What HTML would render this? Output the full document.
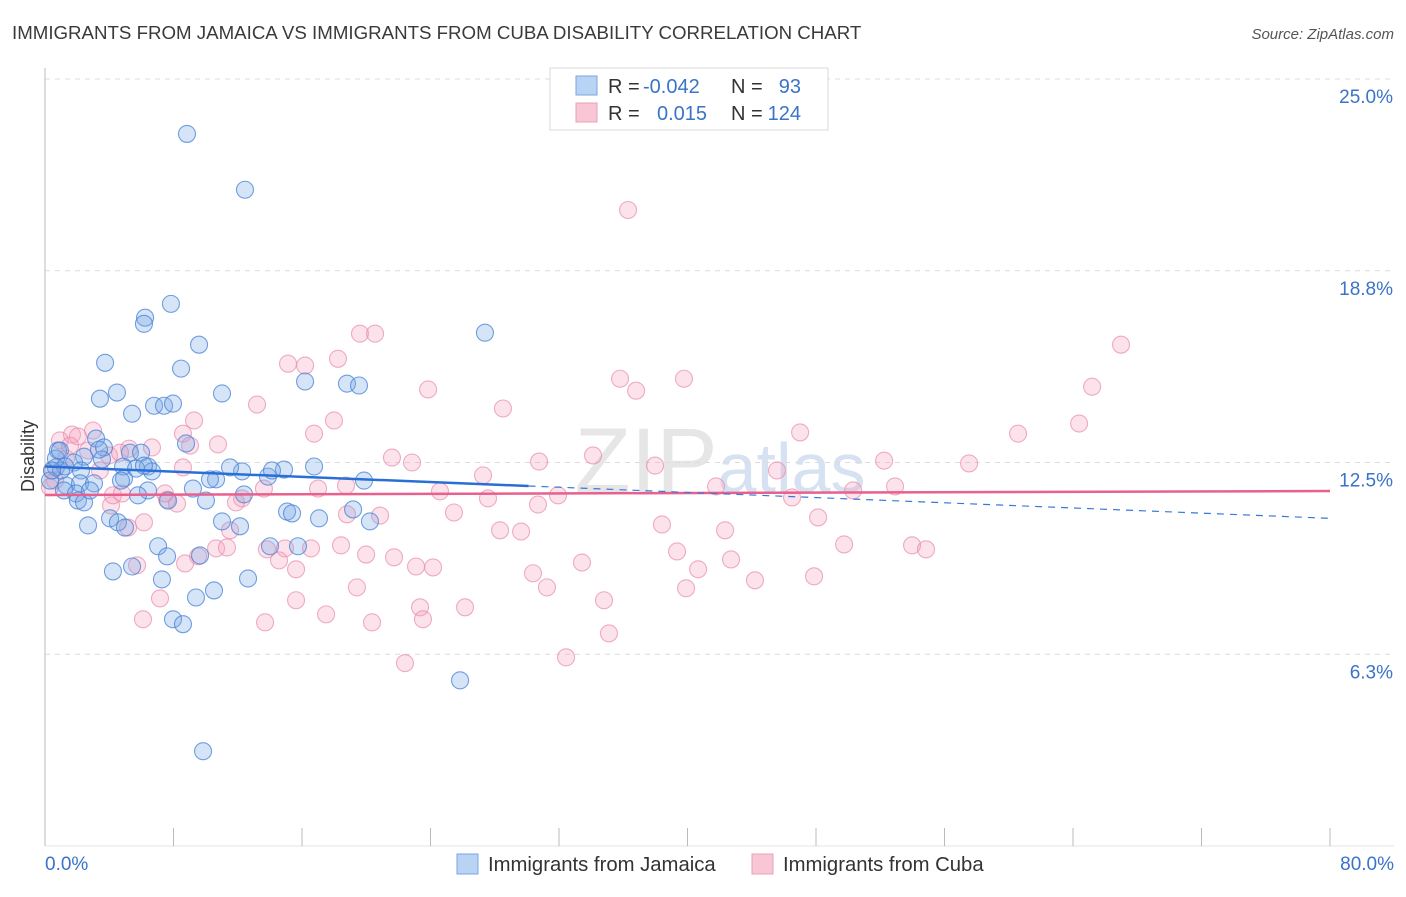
<!DOCTYPE html>
<html><head><meta charset="utf-8"><style>
body{margin:0;background:#fff;font-family:"Liberation Sans",sans-serif;}
svg text{font-family:"Liberation Sans",sans-serif;}
</style></head><body>
<svg id="chart" width="1406" height="892" viewBox="0 0 1406 892" xmlns="http://www.w3.org/2000/svg">
<text x="12" y="39" font-size="18.7" fill="#3a3a3a">IMMIGRANTS FROM JAMAICA VS IMMIGRANTS FROM CUBA DISABILITY CORRELATION CHART</text>
<text x="1394" y="39" font-size="15" fill="#555" text-anchor="end" font-style="italic">Source: ZipAtlas.com</text>
<text x="720" y="492" font-size="92" fill="#e6e6e6" text-anchor="middle" font-family="Liberation Serif">ZIP<tspan fill="#d6e2f2" font-family="Liberation Sans" font-size="70">atlas</tspan></text>
<g id="grid"></g>
<g id="axes"></g>
<g id="pinkPts"></g>
<g id="bluePts"></g>
<g id="trends"></g>
<text transform="translate(34,456) rotate(-90)" font-size="18" fill="#333" text-anchor="middle">Disability</text>
<g>
<rect x="550" y="68" width="278" height="62" fill="#fff" stroke="#d8d8d8"/>
<rect x="576" y="76" width="21" height="19" fill="#b9d3f5" stroke="#7ba6e0"/>
<rect x="576" y="103" width="21" height="19" fill="#f8c6d4" stroke="#eaa0b8"/>
<text x="608" y="93" font-size="20" fill="#333">R =</text>
<text x="643" y="93" font-size="20" fill="#3a73c8">-0.042</text>
<text x="731" y="93" font-size="20" fill="#333">N =</text>
<text x="801" y="93" font-size="20" fill="#3a73c8" text-anchor="end">93</text>
<text x="608" y="120" font-size="20" fill="#333">R =</text>
<text x="657" y="120" font-size="20" fill="#3a73c8">0.015</text>
<text x="731" y="120" font-size="20" fill="#333">N =</text>
<text x="801" y="120" font-size="20" fill="#3a73c8" text-anchor="end">124</text>
</g>
<g>
<rect x="457" y="854" width="21" height="20" fill="#b9d3f5" stroke="#7ba6e0"/>
<text x="488" y="871" font-size="20.3" fill="#333">Immigrants from Jamaica</text>
<rect x="752" y="854" width="21" height="20" fill="#f8c6d4" stroke="#eaa0b8"/>
<text x="783" y="871" font-size="20.3" fill="#333">Immigrants from Cuba</text>
</g>
</svg>
<script>
const yTicks=[6.25,12.5,18.75,25];
const yTickLabels=["6.3%","12.5%","18.8%","25.0%"];
const xTicks=[0,8,16,24,32,40,48,56,64,72,80];
const blueX=[8.84,12.45,7.84,6.23,6.16,9.59,27.39,3.74,8.47,16.19,18.80,19.55,4.48,11.02,3.42,6.79,7.41,7.97,5.42,3.18,8.78,3.67,0.81,2.43,3.55,5.29,5.98,6.41,1.81,0.68,1.00,1.25,2.24,4.92,6.66,4.86,5.67,10.65,12.27,13.88,14.88,16.75,19.86,14.13,1.31,2.18,3.05,1.18,4.73,6.41,9.21,10.02,5.79,1.93,2.05,2.43,12.39,7.66,15.07,15.38,17.06,19.18,20.23,4.05,4.54,4.98,2.68,11.02,12.14,7.04,7.60,14.01,15.75,4.23,5.42,7.28,9.65,12.64,10.52,9.40,7.97,8.59,25.84,9.84,0.31,0.44,0.68,0.93,3.36,2.80,6.16,10.27,11.52];
const blueY=[23.21,21.39,17.67,17.22,17.02,16.34,16.73,15.75,15.56,15.14,15.07,15.01,14.78,14.75,14.58,14.35,14.35,14.42,14.09,13.28,13.12,12.99,12.89,12.69,12.60,12.82,12.82,12.37,12.50,12.34,12.24,12.37,12.24,11.98,12.21,12.37,12.30,11.95,12.21,12.04,12.27,12.37,11.91,12.24,11.75,11.82,11.82,11.59,11.91,11.59,11.65,11.26,11.43,11.49,11.26,11.20,11.46,11.26,10.90,10.84,10.68,10.97,10.58,10.68,10.55,10.38,10.45,10.58,10.42,9.77,9.44,9.77,9.77,8.95,9.11,8.69,9.47,8.72,8.33,8.10,7.39,7.23,5.40,3.09,11.91,12.24,12.63,12.89,12.92,11.59,12.40,11.95,12.34];
const pinkX=[36.30,19.61,20.55,66.99,18.24,16.19,15.13,35.80,39.78,65.19,23.85,36.80,13.20,28.51,9.28,17.99,64.38,47.01,60.58,16.75,8.59,1.68,2.05,2.99,5.23,6.66,10.77,9.03,21.60,22.85,30.76,34.12,37.98,45.57,52.24,57.53,8.59,27.27,24.59,27.58,31.94,41.78,46.51,50.31,52.92,12.27,13.63,17.00,18.74,18.80,20.86,25.46,30.69,7.60,8.22,4.11,4.23,4.79,7.47,48.13,38.41,42.34,11.52,28.33,29.64,11.89,6.16,5.17,13.82,16.56,18.43,21.73,23.10,24.16,19.99,39.35,42.71,49.75,53.98,54.85,9.53,10.65,11.33,14.94,14.57,15.63,33.43,40.66,30.38,31.25,44.20,47.88,8.72,5.73,7.16,19.42,15.63,17.50,23.35,23.53,26.15,34.80,39.91,6.10,13.70,20.36,35.11,22.41,32.44,0.93,0.44,0.62,0.31,1.31,3.98,1.56,2.68,3.42,4.67];
const pinkY=[20.73,16.70,16.70,16.34,15.88,15.66,15.72,15.23,15.23,14.97,14.88,14.84,14.39,14.26,13.87,13.87,13.77,13.48,13.44,13.44,13.44,13.41,13.35,13.54,12.95,12.99,13.09,13.05,12.66,12.50,12.53,12.73,12.40,12.24,12.56,12.47,12.34,12.08,11.56,11.33,11.43,11.72,11.36,11.59,11.72,11.33,11.65,11.65,11.75,10.81,10.77,10.87,11.13,11.29,11.16,11.10,11.43,11.49,11.49,10.71,10.48,10.29,10.29,10.29,10.25,11.20,10.55,10.38,9.67,9.70,9.80,9.41,9.11,9.08,9.50,9.60,9.34,9.83,9.80,9.67,9.44,9.70,9.73,9.70,9.31,9.02,9.24,9.02,8.89,8.43,8.66,8.79,9.21,9.15,8.07,8.43,8.01,7.55,7.78,7.39,7.78,8.01,8.40,7.39,7.29,7.29,6.93,5.96,6.15,13.22,12.24,11.91,11.69,12.63,12.73,13.05,12.89,12.24,12.82];
const blueTrend=[12.37,10.68];
const blueSolidEnd=30.1;
const pinkTrend=[11.44,11.57];

const NS="http://www.w3.org/2000/svg";
const X0=45,X1=1330,Y0=846,YTOP=79;
const sx=v=>X0+(v/80)*(X1-X0);
const sy=v=>Y0-(v/25)*(Y0-YTOP);
function mk(tag,attrs,parent){const e=document.createElementNS(NS,tag);for(const k in attrs)e.setAttribute(k,attrs[k]);parent.appendChild(e);return e;}
const grid=document.getElementById('grid'),axes=document.getElementById('axes');
yTicks.forEach((t,i)=>{
  const g=mk('line',{x1:X0,x2:1394,y1:sy(t),y2:sy(t),stroke:'#dcdcdc','stroke-dasharray':'5,5'},grid);
  
  
  const tx=mk('text',{x:1393,y:sy(t)+24,'font-size':'19','fill':'#3a73c8','text-anchor':'end'},axes);
  tx.textContent=yTickLabels[i];
  
  
});
const ya=mk('line',{x1:X0,x2:X0,y1:68,y2:Y0,stroke:'#bbb'},axes);


const xa=mk('line',{x1:X0,x2:1394,y1:Y0,y2:Y0,stroke:'#e4e4e4'},axes);


xTicks.forEach(t=>{
  const l=mk('line',{x1:sx(t),x2:sx(t),y1:828,y2:Y0,stroke:'#bbb'},axes);
  
  
});
const xl0=mk('text',{x:45,y:870,'font-size':'19',fill:'#3a73c8'},axes);xl0.textContent='0.0%';


const xl1=mk('text',{x:1394,y:870,'font-size':'19',fill:'#3a73c8','text-anchor':'end'},axes);xl1.textContent='80.0%';


function pts(xs,ys,gid,fill,stroke,name){
  const g=document.getElementById(gid);
  xs.forEach((x,i)=>{
    const c=mk('circle',{cx:sx(x),cy:sy(ys[i]),r:8.5,fill:fill,stroke:stroke,'stroke-width':'1.1'},g);
    
    
  });
}
pts(pinkX,pinkY,'pinkPts','rgba(244,160,188,0.3)','rgba(232,140,172,0.7)','cuba-point');
pts(blueX,blueY,'bluePts','rgba(120,165,230,0.3)','rgba(70,130,215,0.75)','jamaica-point');
const tr=document.getElementById('trends');
const bAt=x=>blueTrend[0]+(blueTrend[1]-blueTrend[0])*x/80;
const pAt=x=>pinkTrend[0]+(pinkTrend[1]-pinkTrend[0])*x/80;
const pl=mk('line',{x1:sx(0),y1:sy(pAt(0)),x2:sx(80),y2:sy(pAt(80)),stroke:'#e8608e','stroke-width':'2.5'},tr);


const bd=mk('line',{x1:sx(blueSolidEnd),y1:sy(bAt(blueSolidEnd)),x2:sx(80),y2:sy(bAt(80)),stroke:'#3a78d8','stroke-width':'1.2','stroke-dasharray':'7,6'},tr);


const bl=mk('line',{x1:sx(0),y1:sy(bAt(0)),x2:sx(blueSolidEnd),y2:sy(bAt(blueSolidEnd)),stroke:'#2a6fd6','stroke-width':'2.5'},tr);


</script>
</body></html>
